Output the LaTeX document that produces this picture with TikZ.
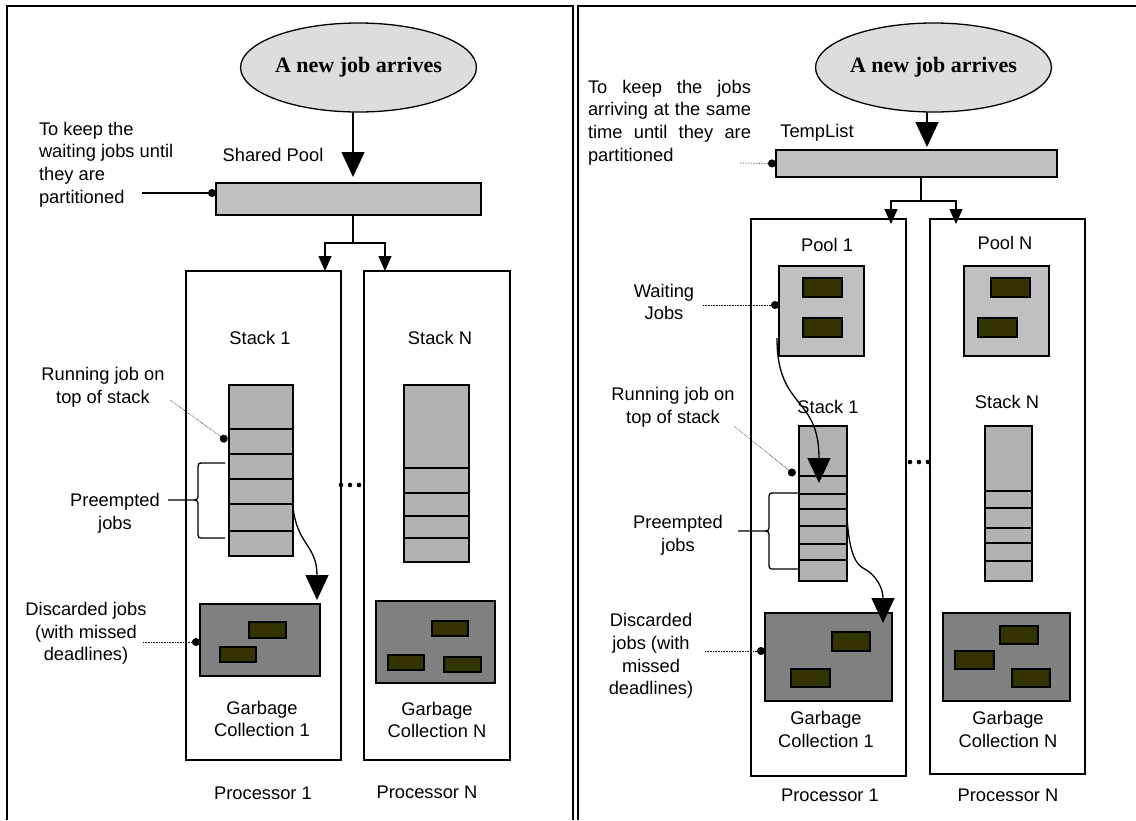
\documentclass[tikz,border=0pt]{standalone}
\usepackage{fontspec}
\setmainfont{Liberation Sans}
\newfontfamily\serifbf{Liberation Serif}
\usetikzlibrary{arrows.meta,shapes.geometric}
\definecolor{ellgray}{HTML}{DDDDDD}
\definecolor{poolgray}{HTML}{C0C0C0}
\definecolor{stackgray}{HTML}{B2B2B2}
\definecolor{gargray}{HTML}{808080}
\definecolor{jobcol}{HTML}{333300}
\newcommand\boxat[6]{\node[#1, minimum width={(#4)-(#2)}, minimum height={(#5)-(#3)}] (#6) at ({((#2)+(#4))/2},{((#3)+(#5))/2}) {};}
\newcommand\justline[1]{\hbox to 163pt{#1}}
\tikzset{
 every node/.style={inner sep=0pt, outer sep=0pt},
 lbl/.style={font=\fontsize{18.3}{22.7}\selectfont, align=center},
 lbll/.style={font=\fontsize{18.3}{22.7}\selectfont, align=left},
 arrive/.style={ellipse, draw, line width=1.3pt, fill=ellgray, minimum height=89pt, font=\serifbf\bfseries\fontsize{22}{26}\selectfont},
 poolbar/.style={draw, line width=1.4pt, fill=poolgray},
 procbox/.style={draw, line width=1.3pt},
 stackbox/.style={draw, line width=1.4pt, fill=stackgray},
 garbox/.style={draw, line width=1.4pt, fill=gargray},
 jobbox/.style={draw, line width=1.4pt, fill=jobcol},
 bigarrow/.style={line width=1.3pt, -{Triangle[width=23pt,length=25pt]}},
 smallarrow/.style={line width=1.3pt, -{Triangle[width=13pt,length=15pt]}},
 leader/.style={line width=0.6pt, densely dotted, -{Circle[length=8pt]}},
 solidleader/.style={line width=1.3pt, -{Circle[length=8pt]}},
 divider/.style={line width=2pt},
 thindivider/.style={line width=1.5pt},
 frameline/.style={line width=2pt},
 bracepath/.style={line width=1.3pt},
}
\begin{document}
\begin{tikzpicture}[x=1pt,y=-1pt]
\useasboundingbox (0,0) rectangle (1136,820);
% panel frames
\draw[frameline] (7,820) -- (7,6) -- (573,6) -- (573,820);
\draw[frameline] (578,820) -- (578,6) -- (1136,6);

%================ LEFT PANEL ================
\node[arrive, minimum width=197pt] (e1) at (358.5,67.5) {A new job arrives};
\node[lbl] (splbl) at (273,155) {Shared Pool};
\boxat{poolbar}{216}{183}{481}{215}{sp}
\draw[bigarrow] ([xshift=-5.5pt]e1.south) -- ([xshift=4.5pt,yshift=6pt]sp.north);
\node[lbll, anchor=west] (note1) at (39,164.5) {To keep the\\waiting jobs until\\they are\\partitioned};
\coordinate (n1) at (142,193);
\draw[solidleader] (n1) -- ([yshift=6pt]sp.west);

\boxat{procbox}{186}{271}{341}{760}{p1}
\boxat{procbox}{364}{271}{510}{760}{pN}
\draw[line width=1.3pt] ([xshift=4.5pt]sp.south) -- ++(0,28) coordinate (f1);
\draw[smallarrow] (f1) -| ([xshift=-16pt]p1.north east);
\draw[smallarrow] (f1) -| ([xshift=21pt]pN.north west);

\node[lbl] (st1lbl) at (260,338) {Stack 1};
\node[lbl] (stNlbl) at (440,338) {Stack N};
\boxat{stackbox}{229}{385}{293}{556}{s1}
\foreach \y in {429,454,479,504,531} \draw[divider] (229,\y) -- (293,\y);
\boxat{stackbox}{404}{385}{469}{562}{sN}
\foreach \y in {468,493,516,538} \draw[divider] (404,\y) -- (469,\y);

\node[lbl] (run1) at (103,387) {Running job on\\top of stack};
\coordinate (r1) at (170,400);
\draw[leader] (r1) -- ([xshift=-2pt,yshift=29.5pt]s1.west);

\draw[bracepath] (225,463) -- (204,463) .. controls (198,463) .. (198,470) -- (198,493)
  .. controls (198,500) .. (190,500) -- (168,500)
  (190,500) .. controls (198,500) .. (198,507) -- (198,531)
  .. controls (198,538) .. (204,538) -- (225,538);
\node[lbl] (pre1) at (115,513.5) {Preempted\\jobs};

\foreach \x in {341,350,359} \fill (\x,485) circle (2.3pt);

\boxat{garbox}{200}{604}{320}{676}{g1}
\boxat{jobbox}{249}{622}{286}{638}{g1a}
\boxat{jobbox}{220}{647}{256}{662}{g1b}
\boxat{garbox}{376}{601}{495}{683}{gN}
\boxat{jobbox}{432}{621}{468}{636}{gNa}
\boxat{jobbox}{388}{655}{424}{670}{gNb}
\boxat{jobbox}{444}{657}{481}{672}{gNc}

\draw[bigarrow] ([yshift=-36.5pt]s1.east) .. controls (297,545) and (317,545) .. ([xshift=-3pt,yshift=4pt]g1.north east);

\node[lbl] (gc1) at (262,719) {Garbage\\Collection 1};
\node[lbl] (gcN) at (437,720) {Garbage\\Collection N};
\node[lbl] (disc1) at (86,633.5) {Discarded jobs\\(with missed\\deadlines)};
\coordinate (d1) at (143,642);
\draw[leader] (d1) -- ([yshift=-2pt]g1.west);
\node[lbl] (pr1) at (263,793) {Processor 1};
\node[lbl] (prN) at (427,792) {Processor N};

%================ RIGHT PANEL ================
\node[arrive, minimum width=209pt] (e2) at (933.5,67.5) {A new job arrives};
\node[lbl] (tllbl) at (817,133) {TempList};
\boxat{poolbar}{776}{150}{1057}{177}{tl}
\draw[bigarrow] ([xshift=-6.5pt]e2.south) -- ([xshift=10.5pt,yshift=3pt]tl.north);
\node[lbll, anchor=west] (note2) at (588,122.5)
 {\justline{To\hfil keep\hfil the\hfil jobs}\\\justline{arriving\hfil at\hfil the\hfil same}\\\justline{time\hfil until\hfil they\hfil are}\\partitioned};
\coordinate (n2) at (740,163);
\draw[leader] (n2) -- (tl.west);

\boxat{procbox}{751}{219}{906}{776}{q1}
\boxat{procbox}{930}{219}{1085}{774}{qN}
\draw[line width=1.3pt] ([xshift=4.5pt]tl.south) -- ++(0,24) coordinate (f2);
\draw[smallarrow] (f2) -| ([xshift=-15pt,yshift=-5pt]q1.north east);
\draw[smallarrow] (f2) -| ([xshift=26pt,yshift=-5pt]qN.north west);

\node[lbl] (pl1lbl) at (827,245) {Pool 1};
\node[lbl] (plNlbl) at (1005,243) {Pool N};
\boxat{poolbar}{779}{266}{864}{356}{pl1}
\boxat{jobbox}{803}{278}{842}{297}{pl1a}
\boxat{jobbox}{803}{318}{842}{337}{pl1b}
\boxat{poolbar}{964}{266}{1049}{356}{plN}
\boxat{jobbox}{991}{278}{1030}{297}{plNa}
\boxat{jobbox}{978}{318}{1017}{337}{plNb}
\node[lbl] (wait) at (664,302) {Waiting\\Jobs};
\coordinate (w1) at (703,305);
\draw[leader] (w1) -- ([yshift=6pt]pl1.west);

\node[lbl] (st2lbl) at (828,407) {Stack 1};
\node[lbl] (st2Nlbl) at (1007,402) {Stack N};
\boxat{stackbox}{799}{426}{847}{581}{s2}
\foreach \y in {476,494,509,526,544,560} \draw[thindivider] (799,\y) -- (847,\y);
\boxat{stackbox}{985}{426}{1032}{581}{s2N}
\foreach \y in {491,508,528,543,561} \draw[thindivider] (985,\y) -- (1032,\y);

\draw[bigarrow] ([xshift=-2pt,yshift=18pt]pl1.south west) .. controls (777,410) and (819,395) .. ([xshift=-4pt,yshift=20.5pt]s2.center);

\node[lbl] (run2) at (673,407) {Running job on\\top of stack};
\coordinate (r2) at (734,426);
\draw[leader] (r2) -- ([xshift=-4pt,yshift=28.5pt]s2.west);

\draw[bracepath] (799,493) -- (775,493) .. controls (769,493) .. (769,500) -- (769,524)
  .. controls (769,531) .. (762,531) -- (738,531)
  (762,531) .. controls (769,531) .. (769,538) -- (769,562)
  .. controls (769,569) .. (775,569) -- (799,569);
\node[lbl] (pre2) at (678,535.5) {Preempted\\jobs};

\foreach \x in {910,919,928} \fill (\x,462) circle (2.3pt);

\boxat{garbox}{765}{613}{892}{701}{g2}
\boxat{jobbox}{832}{632}{870}{651}{g2a}
\boxat{jobbox}{791}{669}{830}{687}{g2b}
\boxat{garbox}{943}{613}{1070}{701}{g2N}
\boxat{jobbox}{1000}{626}{1038}{644}{g2Na}
\boxat{jobbox}{955}{651}{994}{669}{g2Nb}
\boxat{jobbox}{1012}{669}{1050}{687}{g2Nc}

\draw[bigarrow] ([yshift=-13.5pt]s2.east) .. controls (850,565) and (860,566) .. (868,571)
  .. controls (880,580) and (883,592) .. ([xshift=-9pt,yshift=-10pt]g2.north east);

\node[lbl] (disc2) at (651,656) {Discarded\\jobs (with\\missed\\deadlines)};
\coordinate (d2) at (705,651);
\draw[leader] (d2) -- ([yshift=6pt]g2.west);
\node[lbl] (gc2) at (826,729.5) {Garbage\\Collection 1};
\node[lbl] (gc2N) at (1008,729.5) {Garbage\\Collection N};
\node[lbl] (pr2) at (830,795) {Processor 1};
\node[lbl] (pr2N) at (1008,795) {Processor N};
\end{tikzpicture}
\end{document}
